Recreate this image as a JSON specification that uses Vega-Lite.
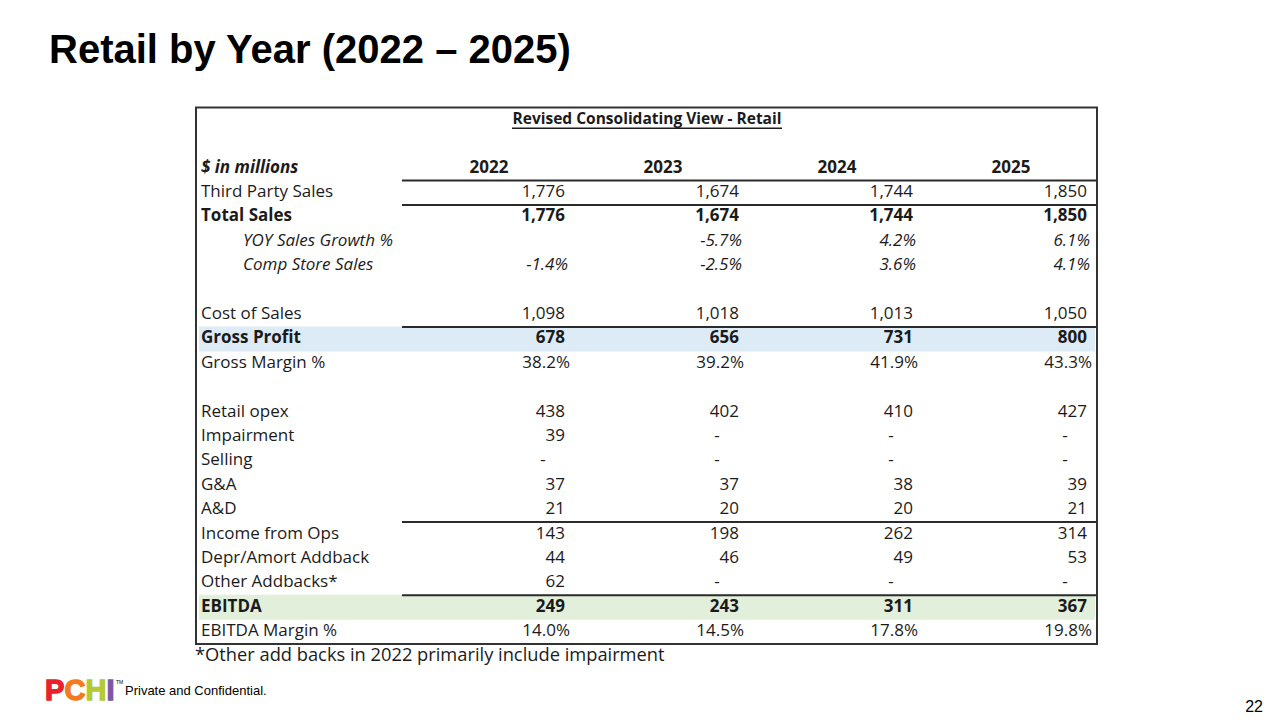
{
  "$schema": "https://vega.github.io/schema/vega-lite/v6.json",
  "width": 1280,
  "height": 720,
  "autosize": {"type": "fit", "contains": "padding"},
  "padding": 0,
  "background": "#ffffff",
  "config": {
    "view": {"stroke": null},
    "axis": {"disable": true},
    "legend": {"disable": true},
    "text": {"font": "Open Sans", "fontSize": 17, "color": "#1b1b1b", "baseline": "middle"},
    "locale": {"number": {"decimal": ".", "thousands": ",", "grouping": [3], "currency": ["$", ""], "minus": "-"}}
  },
  "datasets": {
    "lines": [
      {"r": 0, "line": "$ in millions", "kind": "head", "unit": "none"},
      {"r": 1, "line": "Third Party Sales", "kind": "plain", "unit": "num"},
      {"r": 2, "line": "Total Sales", "kind": "total", "unit": "num"},
      {"r": 3, "line": "YOY Sales Growth %", "kind": "sub", "unit": "pct"},
      {"r": 4, "line": "Comp Store Sales", "kind": "sub", "unit": "pct"},
      {"r": 6, "line": "Cost of Sales", "kind": "plain", "unit": "num"},
      {"r": 7, "line": "Gross Profit", "kind": "total", "unit": "num"},
      {"r": 8, "line": "Gross Margin %", "kind": "plain", "unit": "pct"},
      {"r": 10, "line": "Retail opex", "kind": "plain", "unit": "num"},
      {"r": 11, "line": "Impairment", "kind": "plain", "unit": "num"},
      {"r": 12, "line": "Selling", "kind": "plain", "unit": "num"},
      {"r": 13, "line": "G&A", "kind": "plain", "unit": "num"},
      {"r": 14, "line": "A&D", "kind": "plain", "unit": "num"},
      {"r": 15, "line": "Income from Ops", "kind": "plain", "unit": "num"},
      {"r": 16, "line": "Depr/Amort Addback", "kind": "plain", "unit": "num"},
      {"r": 17, "line": "Other Addbacks*", "kind": "plain", "unit": "num"},
      {"r": 18, "line": "EBITDA", "kind": "total", "unit": "num"},
      {"r": 19, "line": "EBITDA Margin %", "kind": "plain", "unit": "pct"}
    ],
    "cells": [
      {"line": "Third Party Sales", "year": 2022, "value": 1776},
      {"line": "Third Party Sales", "year": 2023, "value": 1674},
      {"line": "Third Party Sales", "year": 2024, "value": 1744},
      {"line": "Third Party Sales", "year": 2025, "value": 1850},
      {"line": "Total Sales", "year": 2022, "value": 1776},
      {"line": "Total Sales", "year": 2023, "value": 1674},
      {"line": "Total Sales", "year": 2024, "value": 1744},
      {"line": "Total Sales", "year": 2025, "value": 1850},
      {"line": "YOY Sales Growth %", "year": 2023, "value": -0.057},
      {"line": "YOY Sales Growth %", "year": 2024, "value": 0.042},
      {"line": "YOY Sales Growth %", "year": 2025, "value": 0.061},
      {"line": "Comp Store Sales", "year": 2022, "value": -0.014},
      {"line": "Comp Store Sales", "year": 2023, "value": -0.025},
      {"line": "Comp Store Sales", "year": 2024, "value": 0.036},
      {"line": "Comp Store Sales", "year": 2025, "value": 0.041},
      {"line": "Cost of Sales", "year": 2022, "value": 1098},
      {"line": "Cost of Sales", "year": 2023, "value": 1018},
      {"line": "Cost of Sales", "year": 2024, "value": 1013},
      {"line": "Cost of Sales", "year": 2025, "value": 1050},
      {"line": "Gross Profit", "year": 2022, "value": 678},
      {"line": "Gross Profit", "year": 2023, "value": 656},
      {"line": "Gross Profit", "year": 2024, "value": 731},
      {"line": "Gross Profit", "year": 2025, "value": 800},
      {"line": "Gross Margin %", "year": 2022, "value": 0.382},
      {"line": "Gross Margin %", "year": 2023, "value": 0.392},
      {"line": "Gross Margin %", "year": 2024, "value": 0.419},
      {"line": "Gross Margin %", "year": 2025, "value": 0.433},
      {"line": "Retail opex", "year": 2022, "value": 438},
      {"line": "Retail opex", "year": 2023, "value": 402},
      {"line": "Retail opex", "year": 2024, "value": 410},
      {"line": "Retail opex", "year": 2025, "value": 427},
      {"line": "Impairment", "year": 2022, "value": 39},
      {"line": "Impairment", "year": 2023, "value": 0},
      {"line": "Impairment", "year": 2024, "value": 0},
      {"line": "Impairment", "year": 2025, "value": 0},
      {"line": "Selling", "year": 2022, "value": 0},
      {"line": "Selling", "year": 2023, "value": 0},
      {"line": "Selling", "year": 2024, "value": 0},
      {"line": "Selling", "year": 2025, "value": 0},
      {"line": "G&A", "year": 2022, "value": 37},
      {"line": "G&A", "year": 2023, "value": 37},
      {"line": "G&A", "year": 2024, "value": 38},
      {"line": "G&A", "year": 2025, "value": 39},
      {"line": "A&D", "year": 2022, "value": 21},
      {"line": "A&D", "year": 2023, "value": 20},
      {"line": "A&D", "year": 2024, "value": 20},
      {"line": "A&D", "year": 2025, "value": 21},
      {"line": "Income from Ops", "year": 2022, "value": 143},
      {"line": "Income from Ops", "year": 2023, "value": 198},
      {"line": "Income from Ops", "year": 2024, "value": 262},
      {"line": "Income from Ops", "year": 2025, "value": 314},
      {"line": "Depr/Amort Addback", "year": 2022, "value": 44},
      {"line": "Depr/Amort Addback", "year": 2023, "value": 46},
      {"line": "Depr/Amort Addback", "year": 2024, "value": 49},
      {"line": "Depr/Amort Addback", "year": 2025, "value": 53},
      {"line": "Other Addbacks*", "year": 2022, "value": 62},
      {"line": "Other Addbacks*", "year": 2023, "value": 0},
      {"line": "Other Addbacks*", "year": 2024, "value": 0},
      {"line": "Other Addbacks*", "year": 2025, "value": 0},
      {"line": "EBITDA", "year": 2022, "value": 249},
      {"line": "EBITDA", "year": 2023, "value": 243},
      {"line": "EBITDA", "year": 2024, "value": 311},
      {"line": "EBITDA", "year": 2025, "value": 367},
      {"line": "EBITDA Margin %", "year": 2022, "value": 0.140},
      {"line": "EBITDA Margin %", "year": 2023, "value": 0.145},
      {"line": "EBITDA Margin %", "year": 2024, "value": 0.178},
      {"line": "EBITDA Margin %", "year": 2025, "value": 0.198}
    ],
    "notes": [
      {"item": "tabletitle", "t": "Revised Consolidating View - Retail"},
      {"item": "footnote", "t": "*Other add backs in 2022 primarily include impairment"}
    ],
    "page": [
      {"item": "title", "t": "Retail by Year (2022 – 2025)"},
      {"item": "footer", "t": "Private and Confidential."},
      {"item": "pagenum", "t": "22"},
      {"item": "P", "t": "P"},
      {"item": "C", "t": "C"},
      {"item": "H", "t": "H"},
      {"item": "I", "t": "I"},
      {"item": "tm", "t": "TM"}
    ]
  },
  "layer": [
    {
      "layer": [
        {
          "data": {"name": "lines"},
          "transform": [{"filter": {"field": "line", "oneOf": ["Gross Profit", "EBITDA"]}}],
          "mark": {"type": "bar", "height": 25, "yOffset": 0.5},
          "encoding": {
            "x": {"datum": 2019.8966, "type": "quantitative", "scale": {"domain": [2018.7529, 2026.1092], "nice": false, "zero": false}},
            "x2": {"datum": 2025.046},
            "y": {"field": "r", "type": "quantitative", "scale": {"domain": [-6.669, 22.433], "reverse": true, "nice": false, "zero": false}},
            "color": {"condition": {"test": "datum.line === 'EBITDA'", "value": "#E2EFDA"}, "value": "#DDEBF7"}
          }
        },
        {
          "data": {"name": "lines"},
          "transform": [{"filter": {"field": "line", "oneOf": ["$ in millions", "Third Party Sales", "Cost of Sales", "A&D", "Other Addbacks*"]}}],
          "mark": {"type": "rule", "color": "#2b2b2b", "strokeWidth": 2, "yOffset": 12.8},
          "encoding": {
            "x": {"datum": 2021.0632, "type": "quantitative", "scale": {"domain": [2018.7529, 2026.1092], "nice": false, "zero": false}},
            "x2": {"datum": 2025.0575},
            "y": {"field": "r", "type": "quantitative", "scale": {"domain": [-6.669, 22.433], "reverse": true, "nice": false, "zero": false}}
          }
        },
        {
          "data": {"name": "notes"},
          "transform": [{"filter": "datum.item === 'tabletitle'"}],
          "mark": {"type": "rect", "fill": null, "filled": false, "stroke": "#333333", "strokeWidth": 2},
          "encoding": {
            "x": {"datum": 2019.8793, "type": "quantitative", "scale": {"domain": [2018.7529, 2026.1092], "nice": false, "zero": false}},
            "x2": {"datum": 2025.0575},
            "y": {"datum": -2.466, "type": "quantitative", "scale": {"domain": [-6.669, 22.433], "reverse": true, "nice": false, "zero": false}},
            "y2": {"datum": 19.52}
          }
        },
        {
          "data": {"name": "notes"},
          "transform": [{"filter": "datum.item === 'tabletitle'"}],
          "mark": {"type": "rule", "color": "#1b1b1b", "strokeWidth": 1.5},
          "encoding": {
            "x": {"datum": 2021.6954, "type": "quantitative", "scale": {"domain": [2018.7529, 2026.1092], "nice": false, "zero": false}},
            "x2": {"datum": 2023.2471},
            "y": {"datum": -1.62, "type": "quantitative", "scale": {"domain": [-6.669, 22.433], "reverse": true, "nice": false, "zero": false}}
          }
        },
        {
          "data": {"name": "notes"},
          "transform": [{"filter": "datum.item === 'tabletitle'"}],
          "mark": {"type": "text", "fontSize": 15.5, "fontWeight": "bold", "align": "center"},
          "encoding": {
            "x": {"datum": 2022.4713, "type": "quantitative", "scale": {"domain": [2018.7529, 2026.1092], "nice": false, "zero": false}},
            "y": {"datum": -2, "type": "quantitative", "scale": {"domain": [-6.669, 22.433], "reverse": true, "nice": false, "zero": false}},
            "text": {"field": "t"}
          }
        },
        {
          "data": {"name": "notes"},
          "transform": [{"filter": "datum.item === 'footnote'"}],
          "mark": {"type": "text", "fontSize": 18.3, "align": "left"},
          "encoding": {
            "x": {"datum": 2019.8736, "type": "quantitative", "scale": {"domain": [2018.7529, 2026.1092], "nice": false, "zero": false}},
            "y": {"datum": 20, "type": "quantitative", "scale": {"domain": [-6.669, 22.433], "reverse": true, "nice": false, "zero": false}},
            "text": {"field": "t"}
          }
        },
        {
          "data": {"name": "lines"},
          "transform": [{"filter": "datum.kind === 'head'"}],
          "mark": {"type": "text", "fontWeight": "bold", "fontStyle": "italic", "align": "left"},
          "encoding": {
            "x": {"datum": 2019.9081, "type": "quantitative", "scale": {"domain": [2018.7529, 2026.1092], "nice": false, "zero": false}},
            "y": {"field": "r", "type": "quantitative", "scale": {"domain": [-6.669, 22.433], "reverse": true, "nice": false, "zero": false}},
            "text": {"field": "line"}
          }
        },
        {
          "data": {"name": "lines"},
          "transform": [{"filter": "datum.kind === 'plain'"}],
          "mark": {"type": "text", "align": "left"},
          "encoding": {
            "x": {"datum": 2019.9081, "type": "quantitative", "scale": {"domain": [2018.7529, 2026.1092], "nice": false, "zero": false}},
            "y": {"field": "r", "type": "quantitative", "scale": {"domain": [-6.669, 22.433], "reverse": true, "nice": false, "zero": false}},
            "text": {"field": "line"}
          }
        },
        {
          "data": {"name": "lines"},
          "transform": [{"filter": "datum.kind === 'total'"}],
          "mark": {"type": "text", "fontWeight": "bold", "align": "left"},
          "encoding": {
            "x": {"datum": 2019.9081, "type": "quantitative", "scale": {"domain": [2018.7529, 2026.1092], "nice": false, "zero": false}},
            "y": {"field": "r", "type": "quantitative", "scale": {"domain": [-6.669, 22.433], "reverse": true, "nice": false, "zero": false}},
            "text": {"field": "line"}
          }
        },
        {
          "data": {"name": "lines"},
          "transform": [{"filter": "datum.kind === 'sub'"}],
          "mark": {"type": "text", "fontStyle": "italic", "align": "left"},
          "encoding": {
            "x": {"datum": 2020.1495, "type": "quantitative", "scale": {"domain": [2018.7529, 2026.1092], "nice": false, "zero": false}},
            "y": {"field": "r", "type": "quantitative", "scale": {"domain": [-6.669, 22.433], "reverse": true, "nice": false, "zero": false}},
            "text": {"field": "line"}
          }
        },
        {
          "data": {"name": "cells"},
          "transform": [{"filter": "datum.line === 'Third Party Sales'"}],
          "mark": {"type": "text", "fontWeight": "bold", "align": "center", "dx": -76},
          "encoding": {
            "x": {"field": "year", "type": "quantitative", "scale": {"domain": [2018.7529, 2026.1092], "nice": false, "zero": false}},
            "y": {"datum": 0, "type": "quantitative", "scale": {"domain": [-6.669, 22.433], "reverse": true, "nice": false, "zero": false}},
            "text": {"field": "year", "type": "quantitative", "format": "d"}
          }
        },
        {
          "data": {"name": "cells"},
          "transform": [
            {"lookup": "line", "from": {"data": {"name": "lines"}, "key": "line", "fields": ["r", "kind", "unit"]}},
            {"filter": "datum.unit === 'num' && datum.kind === 'plain' && datum.value !== 0"}
          ],
          "mark": {"type": "text", "align": "right"},
          "encoding": {
            "x": {"field": "year", "type": "quantitative", "scale": {"domain": [2018.7529, 2026.1092], "nice": false, "zero": false}},
            "y": {"field": "r", "type": "quantitative", "scale": {"domain": [-6.669, 22.433], "reverse": true, "nice": false, "zero": false}},
            "text": {"field": "value", "type": "quantitative", "format": ",.0f"}
          }
        },
        {
          "data": {"name": "cells"},
          "transform": [
            {"lookup": "line", "from": {"data": {"name": "lines"}, "key": "line", "fields": ["r", "kind", "unit"]}},
            {"filter": "datum.unit === 'num' && datum.kind === 'total'"}
          ],
          "mark": {"type": "text", "fontWeight": "bold", "align": "right"},
          "encoding": {
            "x": {"field": "year", "type": "quantitative", "scale": {"domain": [2018.7529, 2026.1092], "nice": false, "zero": false}},
            "y": {"field": "r", "type": "quantitative", "scale": {"domain": [-6.669, 22.433], "reverse": true, "nice": false, "zero": false}},
            "text": {"field": "value", "type": "quantitative", "format": ",.0f"}
          }
        },
        {
          "data": {"name": "cells"},
          "transform": [
            {"lookup": "line", "from": {"data": {"name": "lines"}, "key": "line", "fields": ["r", "kind", "unit"]}},
            {"filter": "datum.unit === 'num' && datum.value === 0"}
          ],
          "mark": {"type": "text", "align": "center", "dx": -22},
          "encoding": {
            "x": {"field": "year", "type": "quantitative", "scale": {"domain": [2018.7529, 2026.1092], "nice": false, "zero": false}},
            "y": {"field": "r", "type": "quantitative", "scale": {"domain": [-6.669, 22.433], "reverse": true, "nice": false, "zero": false}},
            "text": {"value": "-"}
          }
        },
        {
          "data": {"name": "cells"},
          "transform": [
            {"lookup": "line", "from": {"data": {"name": "lines"}, "key": "line", "fields": ["r", "kind", "unit"]}},
            {"filter": "datum.unit === 'pct' && datum.kind === 'plain'"}
          ],
          "mark": {"type": "text", "align": "right", "dx": 5},
          "encoding": {
            "x": {"field": "year", "type": "quantitative", "scale": {"domain": [2018.7529, 2026.1092], "nice": false, "zero": false}},
            "y": {"field": "r", "type": "quantitative", "scale": {"domain": [-6.669, 22.433], "reverse": true, "nice": false, "zero": false}},
            "text": {"field": "value", "type": "quantitative", "format": ".1%"}
          }
        },
        {
          "data": {"name": "cells"},
          "transform": [
            {"lookup": "line", "from": {"data": {"name": "lines"}, "key": "line", "fields": ["r", "kind", "unit"]}},
            {"filter": "datum.unit === 'pct' && datum.kind === 'sub'"}
          ],
          "mark": {"type": "text", "fontStyle": "italic", "align": "right", "dx": 3},
          "encoding": {
            "x": {"field": "year", "type": "quantitative", "scale": {"domain": [2018.7529, 2026.1092], "nice": false, "zero": false}},
            "y": {"field": "r", "type": "quantitative", "scale": {"domain": [-6.669, 22.433], "reverse": true, "nice": false, "zero": false}},
            "text": {"field": "value", "type": "quantitative", "format": ".1%"}
          }
        }
      ]
    },
    {
      "layer": [
        {
          "data": {"name": "page"},
          "transform": [{"filter": "datum.item === 'title'"}],
          "mark": {"type": "text", "font": "Liberation Sans", "fontSize": 40, "fontWeight": "bold", "align": "left", "baseline": "alphabetic", "color": "#000000"},
          "encoding": {
            "x": {"datum": 49, "type": "quantitative", "scale": {"domain": [0, 1280], "nice": false, "zero": false}},
            "y": {"datum": 63, "type": "quantitative", "scale": {"domain": [0, 720], "reverse": true, "nice": false, "zero": false}},
            "text": {"field": "t"}
          }
        },
        {
          "data": {"name": "page"},
          "transform": [{"filter": "datum.item === 'footer'"}],
          "mark": {"type": "text", "font": "Liberation Sans", "fontSize": 13, "align": "left", "baseline": "alphabetic", "color": "#000000"},
          "encoding": {
            "x": {"datum": 125, "type": "quantitative", "scale": {"domain": [0, 1280], "nice": false, "zero": false}},
            "y": {"datum": 695, "type": "quantitative", "scale": {"domain": [0, 720], "reverse": true, "nice": false, "zero": false}},
            "text": {"field": "t"}
          }
        },
        {
          "data": {"name": "page"},
          "transform": [{"filter": "datum.item === 'pagenum'"}],
          "mark": {"type": "text", "font": "Liberation Sans", "fontSize": 16, "align": "right", "baseline": "alphabetic", "color": "#000000"},
          "encoding": {
            "x": {"datum": 1263, "type": "quantitative", "scale": {"domain": [0, 1280], "nice": false, "zero": false}},
            "y": {"datum": 712, "type": "quantitative", "scale": {"domain": [0, 720], "reverse": true, "nice": false, "zero": false}},
            "text": {"field": "t"}
          }
        },
        {
          "data": {"name": "page"},
          "transform": [{"filter": "datum.item === 'P'"}],
          "mark": {"type": "text", "font": "Liberation Sans", "fontSize": 29, "fontWeight": "bold", "align": "left", "baseline": "alphabetic", "color": "#E8212B", "stroke": "#E8212B", "strokeWidth": 1.3},
          "encoding": {
            "x": {"datum": 45, "type": "quantitative", "scale": {"domain": [0, 1280], "nice": false, "zero": false}},
            "y": {"datum": 700, "type": "quantitative", "scale": {"domain": [0, 720], "reverse": true, "nice": false, "zero": false}},
            "text": {"field": "t"}
          }
        },
        {
          "data": {"name": "page"},
          "transform": [{"filter": "datum.item === 'C'"}],
          "mark": {"type": "text", "font": "Liberation Sans", "fontSize": 29, "fontWeight": "bold", "align": "left", "baseline": "alphabetic", "color": "#F47A20", "stroke": "#F47A20", "strokeWidth": 1.3},
          "encoding": {
            "x": {"datum": 64.5, "type": "quantitative", "scale": {"domain": [0, 1280], "nice": false, "zero": false}},
            "y": {"datum": 700, "type": "quantitative", "scale": {"domain": [0, 720], "reverse": true, "nice": false, "zero": false}},
            "text": {"field": "t"}
          }
        },
        {
          "data": {"name": "page"},
          "transform": [{"filter": "datum.item === 'H'"}],
          "mark": {"type": "text", "font": "Liberation Sans", "fontSize": 29, "fontWeight": "bold", "align": "left", "baseline": "alphabetic", "color": "#B4C934", "stroke": "#B4C934", "strokeWidth": 1.3},
          "encoding": {
            "x": {"datum": 85.5, "type": "quantitative", "scale": {"domain": [0, 1280], "nice": false, "zero": false}},
            "y": {"datum": 700, "type": "quantitative", "scale": {"domain": [0, 720], "reverse": true, "nice": false, "zero": false}},
            "text": {"field": "t"}
          }
        },
        {
          "data": {"name": "page"},
          "transform": [{"filter": "datum.item === 'I'"}],
          "mark": {"type": "text", "font": "Liberation Sans", "fontSize": 29, "fontWeight": "bold", "align": "left", "baseline": "alphabetic", "color": "#7D57A6", "stroke": "#7D57A6", "strokeWidth": 1.3},
          "encoding": {
            "x": {"datum": 106.5, "type": "quantitative", "scale": {"domain": [0, 1280], "nice": false, "zero": false}},
            "y": {"datum": 700, "type": "quantitative", "scale": {"domain": [0, 720], "reverse": true, "nice": false, "zero": false}},
            "text": {"field": "t"}
          }
        },
        {
          "data": {"name": "page"},
          "transform": [{"filter": "datum.item === 'tm'"}],
          "mark": {"type": "text", "font": "Liberation Sans", "fontSize": 5, "align": "left", "baseline": "alphabetic", "color": "#000000"},
          "encoding": {
            "x": {"datum": 116, "type": "quantitative", "scale": {"domain": [0, 1280], "nice": false, "zero": false}},
            "y": {"datum": 684, "type": "quantitative", "scale": {"domain": [0, 720], "reverse": true, "nice": false, "zero": false}},
            "text": {"field": "t"}
          }
        }
      ]
    }
  ],
  "resolve": {"scale": {"x": "independent", "y": "independent"}}
}
